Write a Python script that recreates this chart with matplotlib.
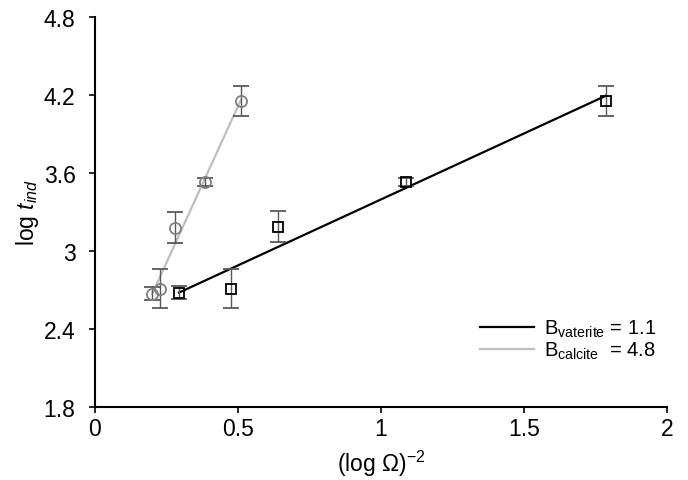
import numpy as np
import matplotlib
matplotlib.use("Agg")
import matplotlib.pyplot as plt

plt.rcParams['font.family'] = ['Liberation Sans', 'DejaVu Sans']
plt.rcParams['mathtext.fontset'] = 'custom'
plt.rcParams['mathtext.rm'] = 'Liberation Sans'
plt.rcParams['mathtext.it'] = 'Liberation Sans:italic'

# données
x_vaterite = [0.294, 0.476, 0.640, 1.087, 1.787]
y_vaterite = [2.677, 2.708, 3.185, 3.530, 4.154]
err_vaterite = [0.05, 0.15, 0.12, 0.03, 0.115]

x_calcite = [0.200, 0.227, 0.280, 0.385, 0.510]
y_calcite = [2.670, 2.708, 3.180, 3.530, 4.154]
err_calcite = [0.05, 0.15, 0.12, 0.03, 0.115]

label_vaterite = r'B$_{\mathrm{vaterite}}$ = 1.1'
label_calcite = r'B$_{\mathrm{calcite}}$  = 4.8'

fig = plt.figure(figsize=(6.88, 4.81), dpi=100)
ax = fig.add_axes([0.138, 0.152, 0.8315, 0.8106])

# droites de tendance (régression linéaire)
for xs, ys, col, lab in [(x_vaterite, y_vaterite, 'black', label_vaterite),
                         (x_calcite, y_calcite, '#bfbfbf', label_calcite)]:
    a, b = np.polyfit(xs, ys, 1)
    xx = np.array([min(xs), max(xs)])
    ax.plot(xx, a * xx + b, color=col, lw=1.6, label=lab, zorder=2)

ax.errorbar(x_vaterite, y_vaterite, yerr=err_vaterite, fmt='s', mfc='none',
            mec='black', mew=1.3, ms=7, ecolor='#595959', elinewidth=1,
            capsize=6, capthick=1, zorder=3)
ax.errorbar(x_calcite, y_calcite, yerr=err_calcite, fmt='o', mfc='none',
            mec='#808080', mew=1.3, ms=8, ecolor='#595959', elinewidth=1,
            capsize=6, capthick=1, zorder=3)

ax.set_xlim(0, 2)
ax.set_ylim(1.8, 4.8)
ax.set_xticks([0, 0.5, 1, 1.5, 2])
ax.set_xticklabels(['0', '0.5', '1', '1.5', '2'])
ax.set_yticks([1.8, 2.4, 3.0, 3.6, 4.2, 4.8])
ax.set_yticklabels(['1.8', '2.4', '3', '3.6', '4.2', '4.8'])
ax.tick_params(direction='out', length=4, width=1.2, labelsize=16.5)
ax.tick_params(axis='x', pad=3)
ax.tick_params(axis='y', pad=10)
for s in ['top', 'right']:
    ax.spines[s].set_visible(False)
for s in ['left', 'bottom']:
    ax.spines[s].set_linewidth(1.5)

ax.set_xlabel(r'(log $\Omega$)$^{-2}$', fontsize=16.5, labelpad=6)
ax.set_ylabel(r'log $t_{ind}$', fontsize=16.5, labelpad=2)

ax.legend(loc='lower right', bbox_to_anchor=(1.012, 0.07), frameon=False,
          fontsize=14.5, handlelength=2.7, handletextpad=0.45, labelspacing=0.05)

fig.savefig('out.png', dpi=100)
